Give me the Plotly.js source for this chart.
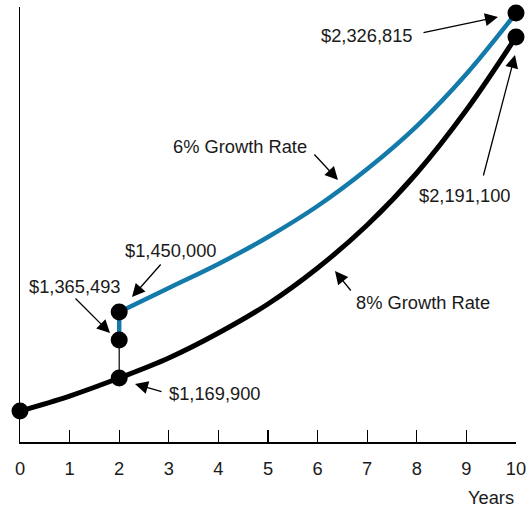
<!DOCTYPE html>
<html>
<head>
<meta charset="utf-8">
<script src="https://cdn.plot.ly/plotly-3.0.1.min.js"></script>
<style>html,body{margin:0;padding:0;background:#fff;}#chart{width:531px;height:508px;}</style>
</head>
<body>
<div id="chart"></div>
<script>
// ---- data ----
const years = [0, 1, 2, 3, 4, 5, 6, 7, 8, 9, 10];
const growth8 = [1065300, 1112800, 1169900, 1233300, 1312500, 1404500, 1518600, 1654900, 1819700, 2019400, 2250900];
const years6 = [2, 3, 4, 5, 6, 7, 8, 9, 10];
const growth6 = [1379100, 1455200, 1531300, 1616900, 1715100, 1832400, 1968700, 2133600, 2326900];
const jumpYear = 2;
const jumpValue = 1290300;       // middle point at year 2
const tickYears = [0, 1, 2, 3, 4, 5, 6, 7, 8, 9, 10];
const labelTexts = {
  top6: "$2,326,815", top8: "$2,191,100", rate6: "6% Growth Rate", rate8: "8% Growth Rate",
  start6: "$1,450,000", mid: "$1,365,493", start8: "$1,169,900", xTitle: "Years"
};

// ---- geometry helpers (pixel -> paper) ----
const L = 20, R = 516, T = 7, B = 442, W = 531, H = 508;
const yMin = 967000, yMax = 2345950;
function px(x) { return (x - L) / (R - L); }
function py(y) { return (B - y) / (B - T); }

const blue = '#147aa9';
const i2 = years.indexOf(jumpYear);

const traces = [
  { x: years, y: growth8, mode: 'lines', line: { color: '#000', width: 5, shape: 'spline', smoothing: 1 }, hoverinfo: 'skip' },
  { x: years6, y: growth6, mode: 'lines', line: { color: blue, width: 4.5, shape: 'spline', smoothing: 1 }, hoverinfo: 'skip' },
  { x: [jumpYear, jumpYear], y: [growth8[i2], jumpValue], mode: 'lines', line: { color: '#000', width: 1.2 }, hoverinfo: 'skip' },
  { x: [jumpYear, jumpYear], y: [jumpValue, growth6[0]], mode: 'lines', line: { color: blue, width: 4.5 }, hoverinfo: 'skip' },
  { x: [years[0], jumpYear, jumpYear, years6[0], years[years.length - 1], years6[years6.length - 1]],
    y: [growth8[0], growth8[i2], jumpValue, growth6[0], growth8[growth8.length - 1], growth6[growth6.length - 1]],
    mode: 'markers', marker: { color: '#000', size: 17 }, cliponaxis: false, hoverinfo: 'skip' }
];

const font = { family: 'Liberation Sans, Arial, sans-serif', size: 18.3, color: '#1a1a1a' };
function txt(t, x, y, anchor) {
  return { text: t, xref: 'paper', yref: 'paper', x: px(x), y: py(y), xanchor: anchor, yanchor: 'middle', showarrow: false, font: font };
}
function arrow(tx, ty, hx, hy) {
  return { text: '', xref: 'paper', yref: 'paper', x: px(hx), y: py(hy), ax: tx - hx, ay: ty - hy,
    showarrow: true, arrowhead: 2, arrowsize: 2, arrowwidth: 1.3, arrowcolor: '#000', standoff: 0 };
}

const annotations = [
  txt(labelTexts.top6, 415, 35, 'right'),
  txt(labelTexts.top8, 417, 195, 'left'),
  txt(labelTexts.rate6, 171, 146, 'left'),
  txt(labelTexts.rate8, 354, 302, 'left'),
  txt(labelTexts.start6, 123, 251, 'left'),
  txt(labelTexts.mid, 27, 286, 'left'),
  txt(labelTexts.start8, 167, 393, 'left'),
  txt(labelTexts.xTitle, 516, 497, 'right'),
  arrow(422, 33, 498, 17),
  arrow(483, 177, 515, 55),
  arrow(313, 153, 338, 180),
  arrow(352, 292, 335, 271),
  arrow(162, 263, 132, 297),
  arrow(74, 297, 110, 333),
  arrow(163, 392, 135, 384)
];

const layout = {
  width: W, height: H,
  margin: { l: L, r: W - R, t: T, b: H - B, pad: 0 },
  paper_bgcolor: '#fff', plot_bgcolor: '#fff',
  showlegend: false,
  xaxis: { range: [0, 10], tickvals: tickYears, ticktext: tickYears.map(String), ticks: 'inside', ticklen: 12, tickwidth: 1.2,
    tickcolor: '#000', showline: true, linecolor: '#000', linewidth: 1.5, showgrid: false, zeroline: false,
    tickfont: font, ticklabelstandoff: 10, fixedrange: true },
  yaxis: { range: [yMin, yMax], showticklabels: false, ticks: '', showline: true, linecolor: '#000', linewidth: 1.5,
    showgrid: false, zeroline: false, fixedrange: true },
  annotations: annotations
};

Plotly.newPlot('chart', traces, layout, { staticPlot: true, displayModeBar: false });
</script>
</body>
</html>
